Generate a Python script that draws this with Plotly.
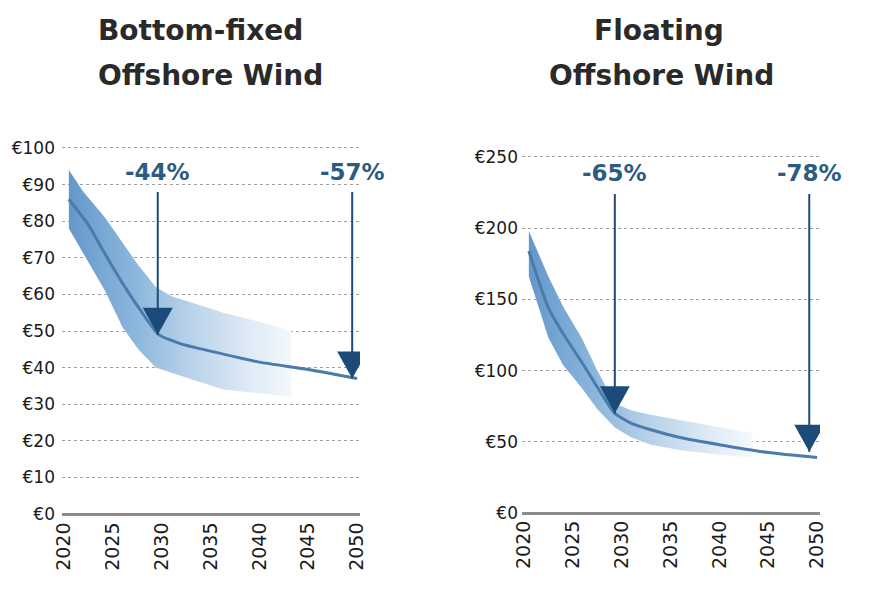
import plotly.graph_objects as go

# ---------------- data ----------------
x_ticks = [2020, 2025, 2030, 2035, 2040, 2045, 2050]

# Bottom-fixed offshore wind (EUR/MWh)
bf_yticks = [0, 10, 20, 30, 40, 50, 60, 70, 80, 90, 100]
bf_line_years = [2020.5, 2022.5, 2024, 2026, 2028, 2029.7, 2032, 2035, 2040, 2045, 2050]
bf_line = [86, 79, 72, 63, 55, 49, 46.5, 44.5, 41.5, 39.5, 37]
bf_band_years = [2020.5, 2022, 2024.2, 2026, 2027.6, 2029.4, 2031, 2032.8, 2036.3, 2040, 2043.3]
bf_upper = [94, 88, 81, 74, 68, 62, 59.5, 58, 55, 52.5, 50]
bf_lower = [78, 71, 61, 51, 45, 40, 38.5, 37, 34, 33, 32]
bf_arrow_years = [2029.6, 2049.5]
bf_arrow_tips = [49, 37]
bf_arrow_top = 88
bf_labels = ["-44%", "-57%"]
bf_label_y = 93.3

# Floating offshore wind (EUR/MWh)
fl_yticks = [0, 50, 100, 150, 200, 250]
fl_line_years = [2020.5, 2022.5, 2024, 2026, 2028, 2029.3, 2031, 2033, 2036, 2040, 2045, 2050]
fl_line = [184, 144, 126, 105, 83, 70, 63, 58.5, 53, 48, 42.5, 39]
fl_band_years = [2020.5, 2022.5, 2024, 2025.9, 2027.5, 2029.3, 2031, 2033, 2036.2, 2040, 2043.4]
fl_upper = [198, 166, 145, 123, 100, 77, 72, 69, 65, 60, 56]
fl_lower = [166, 123, 104, 88, 73, 60, 53, 48, 44, 41, 39]
fl_arrow_years = [2029.3, 2049.2]
fl_arrow_tips = [70, 43]
fl_arrow_top = 224
fl_labels = ["-65%", "-78%"]
fl_label_y = 238.5

titles_left = ["Bottom-fixed", "Offshore Wind"]
titles_right = ["Floating", "Offshore Wind"]

# ---------------- styles ----------------
W, H = 887, 598
BAND_SCALE = [[0, "rgb(100,152,202)"], [0.3, "rgb(140,183,221)"],
              [0.55, "rgb(185,210,234)"], [0.8, "rgb(221,234,245)"], [1, "rgb(245,248,252)"]]
LINE_COLOR = "#4a7bab"
ARROW_COLOR = "#1c4b79"
LABEL_COLOR = "#2d5b82"
FONT = "DejaVu Sans"

fig = go.Figure()


def add_panel(xa, ya, band_years, upper, lower, line_years, line):
    fig.add_trace(go.Scatter(
        x=band_years + band_years[::-1], y=upper + lower[::-1],
        fill="toself", mode="lines", line=dict(width=0),
        fillgradient=dict(type="horizontal", colorscale=BAND_SCALE),
        hoverinfo="skip", showlegend=False, xaxis=xa, yaxis=ya))
    fig.add_trace(go.Scatter(
        x=line_years, y=line, mode="lines",
        line=dict(color=LINE_COLOR, width=3, shape="spline", smoothing=0.6),
        hoverinfo="skip", showlegend=False, xaxis=xa, yaxis=ya))


add_panel("x", "y", bf_band_years, bf_upper, bf_lower, bf_line_years, bf_line)
add_panel("x2", "y2", fl_band_years, fl_upper, fl_lower, fl_line_years, fl_line)

shapes = []
annotations = []


def add_arrows(xr, yr, years, tips, top, labels, label_y):
    for yr_, tip, lab in zip(years, tips, labels):
        shapes.append(dict(type="line", xref=xr, yref=yr, x0=yr_, x1=yr_, y0=tip, y1=top,
                           line=dict(color=ARROW_COLOR, width=2)))
        shapes.append(dict(type="path", xref=xr, yref=yr, xsizemode="pixel", ysizemode="pixel",
                           xanchor=yr_, yanchor=tip, path="M -15 27 L 15 27 L 0 0 Z",
                           fillcolor=ARROW_COLOR, line=dict(width=0)))
        annotations.append(dict(xref=xr, yref=yr, x=yr_, y=label_y, text=lab, showarrow=False,
                                font=dict(family=FONT, size=23, color=LABEL_COLOR, weight="bold"),
                                xanchor="center", yanchor="middle"))


add_arrows("x", "y", bf_arrow_years, bf_arrow_tips, bf_arrow_top, bf_labels, bf_label_y)
add_arrows("x2", "y2", fl_arrow_years, fl_arrow_tips, fl_arrow_top, fl_labels, fl_label_y)

for txt, cx, cy in [(titles_left[0], 200, 31), (titles_left[1], 210, 75),
                    (titles_right[0], 659, 31), (titles_right[1], 661, 75)]:
    annotations.append(dict(xref="paper", yref="paper", x=cx / W, y=1 - cy / H, text=txt,
                            showarrow=False, xanchor="center", yanchor="middle",
                            font=dict(family=FONT, size=28, color="#2a2a2a", weight="bold")))

xcommon = dict(tickvals=x_ticks, ticktext=[str(v) for v in x_ticks], tickangle=-90,
               showgrid=False, zeroline=False, showline=False, automargin=False,
               ticks="", tickfont=dict(family=FONT, size=19, color="#1a1a1a"),
               range=[2019.8, 2050.3], fixedrange=True)
ycommon = dict(showgrid=True, gridcolor="#a0a0a0", griddash="dot", gridwidth=1,
               zeroline=True, zerolinecolor="#8a8a8a", zerolinewidth=2.5, showline=False,
               ticks="", tickfont=dict(family=FONT, size=17, color="#1a1a1a"),
               automargin=False, fixedrange=True)

fig.update_layout(
    width=W, height=H, margin=dict(l=0, r=0, t=0, b=0, pad=0, autoexpand=False),
    paper_bgcolor="white", plot_bgcolor="white",
    xaxis=dict(domain=[62 / W, 360 / W], anchor="y", **xcommon),
    yaxis=dict(domain=[1 - 517.7 / H, 1 - 144.3 / H], anchor="x", range=[-1, 101],
               tickvals=bf_yticks, ticktext=["€" + str(v) for v in bf_yticks],
               ticklabelstandoff=6, **ycommon),
    xaxis2=dict(domain=[522 / W, 820 / W], anchor="y2", **xcommon),
    yaxis2=dict(domain=[1 - 515.9 / H, 1 - 154.1 / H], anchor="x2", range=[-2, 252],
                tickvals=fl_yticks, ticktext=["€" + str(v) for v in fl_yticks],
                ticklabelstandoff=3, **ycommon),
    shapes=shapes, annotations=annotations, showlegend=False,
)

fig.write_html("out.html")
